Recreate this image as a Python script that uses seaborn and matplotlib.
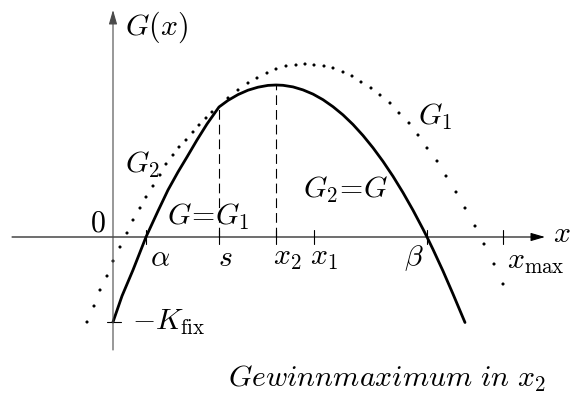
import matplotlib
matplotlib.use("Agg")
import matplotlib.pyplot as plt
import seaborn as sns

# ---- data (abscissa / profit in arbitrary units) ----
# solid profit curve G: follows G1 up to s, then G2
g_x = [0.0, 0.9, 2.0, 3.3, 4.5, 5.5, 6.5, 7.4, 8.4, 9.4, 10.6,
       11.5, 12.5, 13.5, 14.5, 15.5, 16.3, 17.0, 18.0, 19.0, 20.0,
       21.0, 22.0, 23.0, 24.0, 25.0, 26.0, 27.0, 28.0, 29.0, 30.0,
       31.0, 31.4, 32.0, 33.0, 34.0, 35.2]
g_y = [-8.5, -5.9, -3.3, 0.0, 2.6, 4.7, 6.5, 8.0, 9.7, 11.3, 13.0,
       13.66, 14.24, 14.68, 14.98, 15.16, 15.2, 15.17, 15.01, 14.71, 14.29,
       13.73, 13.03, 12.21, 11.25, 10.15, 8.92, 7.56, 6.07, 4.44, 2.68,
       0.79, 0.0, -1.24, -3.40, -5.70, -8.55]

# dotted continuation of G2 to the left of s
g2_dot_x = [-2.6, -1.9, -1.3, -0.6, 0.0, 0.7, 1.4, 2.0, 2.7, 3.3,
            4.0, 4.7, 5.3, 6.0, 6.6, 7.3, 8.0, 8.6, 9.3, 9.9]
g2_dot_y = [-8.5, -6.9, -5.3, -3.9, -2.4, -1.0, 0.4, 1.7, 2.9, 4.0,
            5.1, 6.2, 7.3, 8.2, 9.0, 9.7, 10.5, 11.2, 11.9, 12.5]

# dotted continuation of G1 to the right of s
g1_dot_x = [11.5, 12.5, 13.5, 14.4, 15.4, 16.3, 17.3, 18.3, 19.2, 20.1,
            21.1, 22.0, 23.0, 23.9, 24.8, 25.8, 26.7, 27.7, 28.6, 29.6,
            30.5, 31.4, 32.4, 33.3, 34.3, 35.2, 36.2, 37.1, 38.1, 39.0]
g1_dot_y = [13.9, 14.7, 15.4, 15.9, 16.4, 16.8, 17.1, 17.2, 17.3, 17.2,
            17.1, 16.9, 16.5, 16.1, 15.5, 14.9, 14.2, 13.4, 12.4, 11.4,
            10.2, 8.9, 7.6, 6.1, 4.5, 2.9, 1.1, -0.7, -2.7, -4.7]

# marked points on the quantity axis
tick_pos = [3.3, 10.6, 16.3, 20.1, 31.4, 39.0]
tick_lab = [r"$\alpha$", r"$s$", r"$x_2$", r"$x_1$", r"$\beta$", r"$x_{\max}$"]

k_fix = 8.5          # fixed costs
s_val, s_g = 10.6, 13.0      # switching point s and G(s)
x2_val, x2_g = 16.3, 15.2    # profit maximum

# ---- figure ----
sns.set_theme(style="white")
plt.rcParams["mathtext.fontset"] = "cm"
plt.rcParams["font.family"] = ["DejaVu Serif"]
plt.rcParams["lines.scale_dashes"] = False

fig = plt.figure(figsize=(5.75, 3.96), dpi=100)
ax = fig.add_axes([0, 0, 1, 1])
ax.set_xlim(-11.3, 46.2)
ax.set_ylim(-15.9, 23.7)
ax.axis("off")

FS = 21.5
ink = "black"

# coordinate axes with arrow heads
arrow = dict(arrowstyle="-|>,head_length=0.86,head_width=0.25",
             mutation_scale=10, lw=0.8, color=ink, shrinkA=0, shrinkB=0)
ax.annotate("", xy=(43.2, 0), xytext=(-10.1, 0), arrowprops=arrow)
ax.annotate("", xy=(0, 22.7), xytext=(0, -11.3),
            arrowprops={**arrow, "color": "#4a4a4a"})

# tick marks
for p in tick_pos:
    ax.plot([p, p], [-0.7, 0.7], color=ink, lw=0.8)
ax.plot([-0.6, 0.8], [-k_fix, -k_fix], color=ink, lw=0.8)

# dashed guides at s and x2
for xv, yv in [(s_val, s_g), (x2_val, x2_g)]:
    ax.plot([xv, xv], [0, yv], color=ink, lw=0.8, dashes=(7.0, 3.6))

# curves
sns.scatterplot(x=g2_dot_x, y=g2_dot_y, s=5, color=ink, edgecolor="none",
                ax=ax, legend=False)
sns.scatterplot(x=g1_dot_x, y=g1_dot_y, s=5, color=ink, edgecolor="none",
                ax=ax, legend=False)
sns.lineplot(x=g_x, y=g_y, sort=False, estimator=None, color=ink,
             lw=2.0, ax=ax, legend=False)

# tick labels
lab_dx = [0.35, -0.1, -0.3, -0.4, -0.35, 0.4]
lab_ha = ["left", "left", "left", "left", "right", "left"]
lab_y = [-2.9, -2.9, -2.8, -2.8, -2.8, -3.2]
for p, t, dx, ha, yy in zip(tick_pos, tick_lab, lab_dx, lab_ha, lab_y):
    ax.text(p + dx, yy, t, fontsize=FS, ha=ha, va="baseline", color=ink)

# annotations
txt = dict(fontsize=FS, va="baseline", color=ink)
ax.text(1.2, 20.2, r"$G(x)$", ha="left", **txt)
ax.text(44.0, -0.5, r"$x$", ha="left", **txt)
ax.text(-0.7, 0.5, r"$0$", ha="right", **txt)
ax.text(1.9, -9.3, r"$-K_{\mathrm{fix}}$", ha="left", **txt)
ax.text(5.4, 1.2, r"$G\!=\!G_1$", ha="left", **txt)
ax.text(1.2, 6.4, r"$G_2$", ha="left", **txt)
ax.text(30.5, 11.2, r"$G_1$", ha="left", **txt)
ax.text(19.0, 3.9, r"$G_2\!=\!G$", ha="left", **txt)
ax.text(11.5, -15.0, r"$Gewinnmaximum\ in\ x_2$", ha="left", **txt)

fig.savefig("out.png", dpi=100)
